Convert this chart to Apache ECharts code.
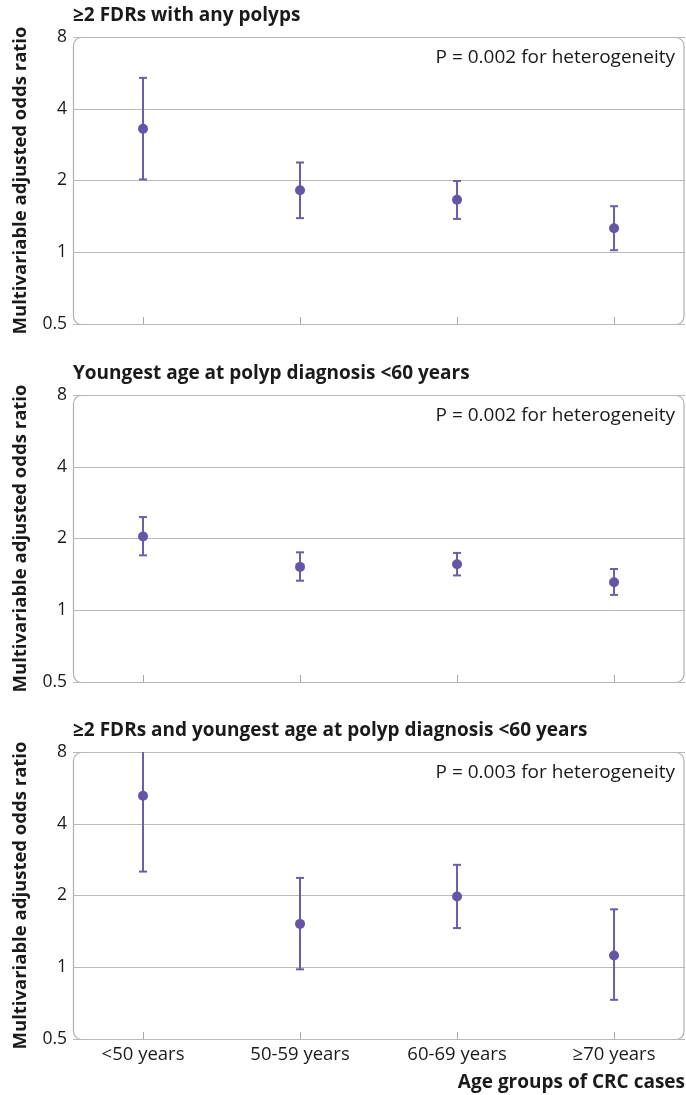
<!DOCTYPE html>
<html>
<head>
<meta charset="utf-8">
<script src="https://cdn.jsdelivr.net/npm/echarts@6/dist/echarts.min.js"></script>
<style>
  html, body { margin: 0; padding: 0; background: #fff; }
  #main { width: 686px; height: 1095px; }
</style>
</head>
<body>
<div id="main"></div>
<script>
var categories = ['<50 years', '50-59 years', '60-69 years', '≥70 years'];
var yTicks = [0.5, 1, 2, 4, 8];

var panelTitles = [
  '≥2 FDRs with any polyps',
  'Youngest age at polyp diagnosis <60 years',
  '≥2 FDRs and youngest age at polyp diagnosis <60 years'
];
var pTexts = [
  'P = 0.002 for heterogeneity',
  'P = 0.002 for heterogeneity',
  'P = 0.003 for heterogeneity'
];

// odds ratio, lower and upper 95% CI per panel
var or1 = [3.30, 1.82, 1.66, 1.26];
var lo1 = [2.02, 1.39, 1.38, 1.02];
var hi1 = [5.39, 2.38, 1.99, 1.56];

var or2 = [2.04, 1.52, 1.56, 1.31];
var lo2 = [1.70, 1.33, 1.40, 1.16];
var hi2 = [2.46, 1.75, 1.74, 1.49];

var or3 = [5.24, 1.52, 1.98, 1.12];
var lo3 = [2.52, 0.98, 1.46, 0.73];
var hi3 = [10.5, 2.37, 2.69, 1.75];

var panels = [
  { or: or1, lo: lo1, hi: hi1 },
  { or: or2, lo: lo2, hi: hi2 },
  { or: or3, lo: lo3, hi: hi3 }
];

var purple = '#6654a6';
var gridTops = [37, 395, 752];
var gridLeft = 73, gridW = 612, gridH = 287;
var font = '"Open Sans", "Noto Sans", sans-serif';

var myChart = echarts.init(document.getElementById('main'));

var grids = [], xAxes = [], yAxes = [], series = [], titles = [], graphics = [];

panels.forEach(function (p, i) {
  grids.push({ left: gridLeft, top: gridTops[i], width: gridW, height: gridH });
  titles.push({
    text: panelTitles[i],
    left: gridLeft,
    top: gridTops[i] - 31,
    padding: 0,
    textStyle: { fontFamily: font, fontSize: 19, fontWeight: 'bold', color: '#1a1a1a' }
  });
  xAxes.push({
    type: 'value',
    gridIndex: i,
    min: -0.446,
    max: 3.452,
    axisLine: { show: false },
    splitLine: { show: false },
    axisTick: {
      show: true, inside: true, length: 7,
      customValues: [0, 1, 2, 3],
      lineStyle: { color: '#a8a8a8', width: 1 }
    },
    axisLabel: {
      show: i === 2,
      customValues: [0, 1, 2, 3],
      formatter: function (v) { return categories[Math.round(v)]; },
      fontFamily: font, fontSize: 18.5, color: '#1a1a1a', margin: 6
    }
  });
  yAxes.push({
    type: 'log',
    logBase: 2,
    gridIndex: i,
    min: 0.5,
    max: 8,
    name: 'Multivariable adjusted odds ratio',
    nameLocation: 'middle',
    nameRotate: 90,
    nameGap: 43,
    nameTextStyle: { fontFamily: font, fontSize: 18.5, fontWeight: 'bold', color: '#1a1a1a' },
    axisLine: { show: false },
    axisTick: { show: false },
    axisLabel: {
      fontFamily: font, fontSize: 17.5, color: '#1a1a1a', margin: 6,
      customValues: yTicks,
      formatter: function (v) { return String(v); }
    },
    splitLine: { show: true, lineStyle: { color: '#b8b8b8', width: 1 } }
  });

  var errData = p.or.map(function (v, k) { return [k, p.lo[k], p.hi[k]]; });
  series.push({
    type: 'custom',
    xAxisIndex: i,
    yAxisIndex: i,
    data: errData,
    z: 3,
    renderItem: function (params, api) {
      var cs = params.coordSys;
      var top = cs.y, bottom = cs.y + cs.height;
      var lowP = api.coord([api.value(0), api.value(1)]);
      var highP = api.coord([api.value(0), api.value(2)]);
      var x = lowP[0];
      var yLow = lowP[1], yHigh = highP[1];
      var style = { stroke: '#6d5cab', lineWidth: 2 };
      var children = [];
      var yH = Math.max(yHigh, top), yL = Math.min(yLow, bottom);
      children.push({ type: 'line', shape: { x1: x, y1: yL, x2: x, y2: yH }, style: style });
      var cw = 4;
      if (yHigh >= top) children.push({ type: 'line', shape: { x1: x - cw, y1: yHigh, x2: x + cw, y2: yHigh }, style: style });
      if (yLow <= bottom) children.push({ type: 'line', shape: { x1: x - cw, y1: yLow, x2: x + cw, y2: yLow }, style: style });
      return { type: 'group', children: children };
    }
  });
  series.push({
    type: 'scatter',
    xAxisIndex: i,
    yAxisIndex: i,
    symbol: 'circle',
    symbolSize: 10,
    z: 4,
    itemStyle: { color: purple, opacity: 1 },
    data: p.or.map(function (v, k) { return [k, v]; })
  });

  graphics.push({
    type: 'rect',
    silent: true,
    z: 0,
    shape: { x: gridLeft + 0.5, y: gridTops[i] + 0.5, width: gridW - 1.5, height: gridH, r: 8 },
    style: { fill: 'none', stroke: '#b0b0b0', lineWidth: 1.2 }
  });
  graphics.push({
    type: 'text',
    silent: true,
    x: 675,
    y: gridTops[i] + 21,
    style: {
      text: pTexts[i], align: 'right', verticalAlign: 'middle',
      font: '19px ' + font, fill: '#1a1a1a'
    }
  });
});

graphics.push({
  type: 'text',
  silent: true,
  x: 685,
  y: 1083,
  style: {
    text: 'Age groups of CRC cases', align: 'right', verticalAlign: 'middle',
    font: 'bold 19px ' + font, fill: '#1a1a1a'
  }
});

option = {
  animation: false,
  backgroundColor: '#fff',
  title: titles,
  grid: grids,
  xAxis: xAxes,
  yAxis: yAxes,
  series: series,
  graphic: graphics
};
myChart.setOption(option);
</script>
</body>
</html>
